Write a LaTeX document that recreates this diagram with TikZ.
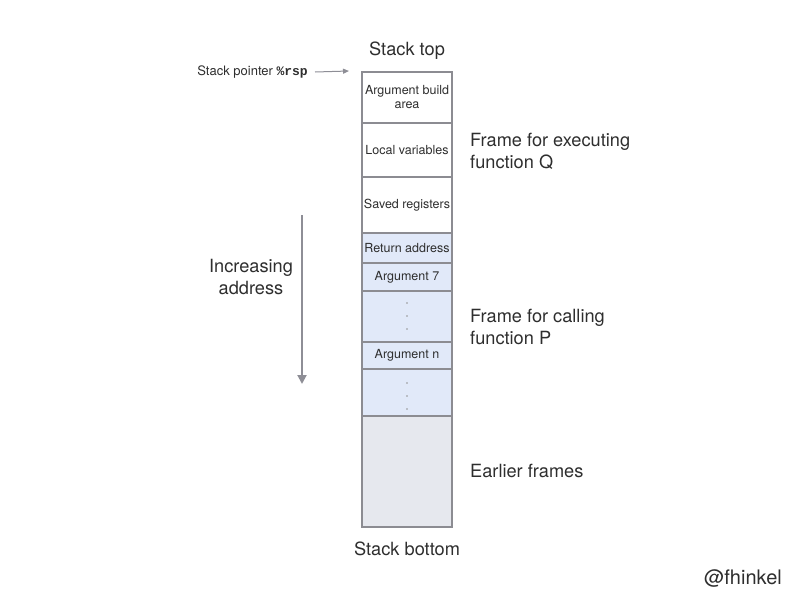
\documentclass[tikz,border=0pt]{standalone}
\usepackage{fontspec}
\setmainfont{TeX Gyre Heros}
\setmonofont{Liberation Mono}
\usetikzlibrary{arrows.meta}
\definecolor{txt}{HTML}{2E2E2E}
\definecolor{bordergray}{HTML}{8C8C92}
\definecolor{argblue}{HTML}{E1E9F9}
\definecolor{earlygray}{HTML}{E6E8EE}
\definecolor{arrowgray}{HTML}{8E8E96}
\tikzset{
  cell/.style={draw=bordergray, line width=1.1pt, minimum width=90pt, inner sep=0pt,
    align=center, font=\fontsize{12.5}{14}\selectfont, text=txt, fill=white},
  bluecell/.style={cell, fill=argblue},
  graycell/.style={cell, fill=earlygray},
  biglabel/.style={font=\fontsize{18.2}{22}\selectfont, text=txt, align=left, inner sep=0pt},
  dotmark/.style={circle, fill=gray!85, inner sep=0pt, minimum size=1.8pt},
  ptr/.style={draw=arrowgray, line width=1pt, -{Triangle[width=5pt,length=6pt]}},
  bigarrow/.style={draw=arrowgray, line width=2pt, -{Triangle[width=9pt,length=9pt]}}
}
\begin{document}
\begin{tikzpicture}[x=1pt,y=-1pt]
\useasboundingbox (0,0) rectangle (800,600);
\node[cell, minimum height=51pt] (c1) at (407,97.5) {Argument build\\area};
\node[cell, minimum height=54pt] (c2) at (407,150) {Local variables};
\node[cell, minimum height=56pt] (c3) at (407,205) {Saved registers};
\node[bluecell, minimum height=30pt] (c4) at (407,248) {Return address};
\node[bluecell, minimum height=28pt] (c5) at (407,277) {Argument 7};
\node[bluecell, minimum height=51pt] (c6) at (407,316.5) {};
\node[bluecell, minimum height=27pt] (c7) at (407,355.5) {Argument n};
\node[bluecell, minimum height=47pt] (c8) at (407,392.5) {};
\node[graycell, minimum height=111pt] (c9) at (407,471.5) {};
\node[dotmark] (d1) at (407,303) {};
\node[dotmark] (d2) at (407,316) {};
\node[dotmark] (d3) at (407,329) {};
\node[dotmark] (d4) at (407,383) {};
\node[dotmark] (d5) at (407,396) {};
\node[dotmark] (d6) at (407,409) {};
\node[biglabel] (top) at (407,51) {Stack top};
\node[biglabel] (bottom) at (407,549) {Stack bottom};
\node[biglabel, anchor=west] (fq) at (470,151) {Frame for executing\\function Q};
\node[biglabel, anchor=west] (fp) at (470,327) {Frame for calling\\function P};
\node[biglabel, anchor=west] (ef) at (470,471) {Earlier frames};
\node[biglabel, align=center] (inc) at (251,277) {Increasing\\address};
\node[font=\fontsize{13}{15}\selectfont, text=txt, inner sep=0pt, anchor=east] (sp) at (308,72)
  {Stack pointer {\ttfamily\bfseries\%rsp}};
\node[font=\fontsize{20}{23}\selectfont, text=txt, inner sep=0pt, anchor=east] (tag) at (782,578) {@fhinkel};
\coordinate (spend) at (349,71);
\coordinate (incstart) at (302,215);
\coordinate (incend) at (302,384);
\draw[ptr] ([xshift=7pt]sp.east) -- (spend);
\draw[bigarrow] (incstart) -- (incend);
\end{tikzpicture}
\end{document}
